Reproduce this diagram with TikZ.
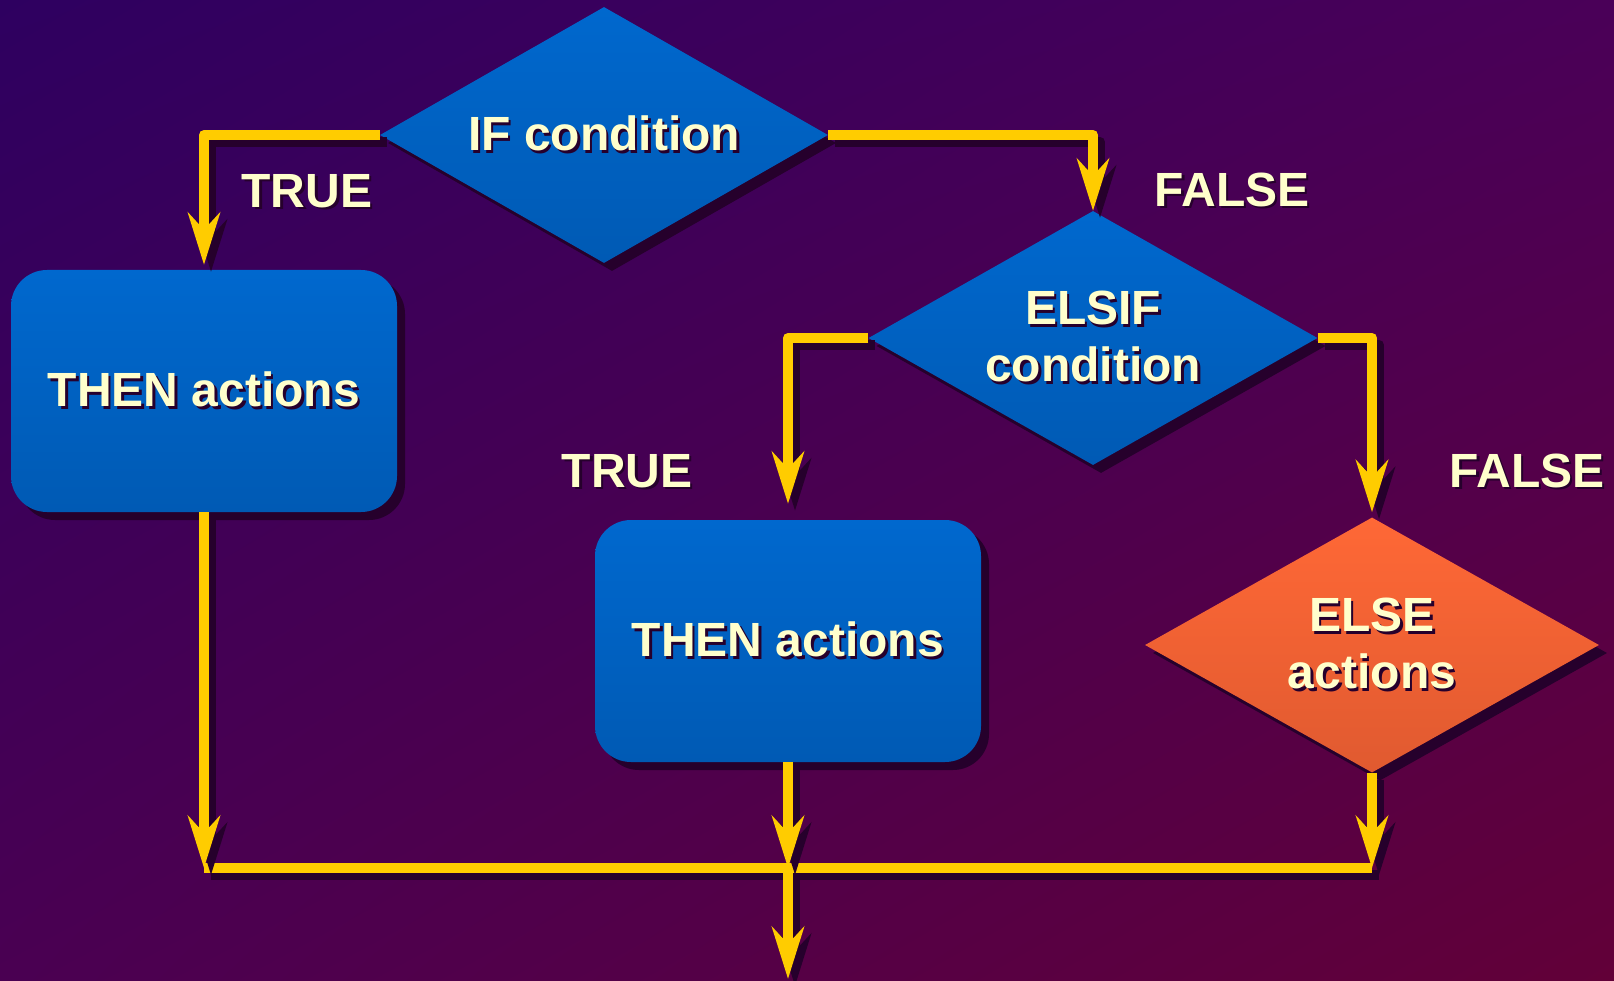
\documentclass[tikz,border=0pt]{standalone}
\usepackage{fontspec}
\setmainfont{Liberation Sans}
\usetikzlibrary{shapes.geometric,arrows.meta,shadows,shadings}
\definecolor{bgA}{HTML}{2E0060}
\definecolor{bgB}{HTML}{4A0058}
\definecolor{bgC}{HTML}{4A0052}
\definecolor{bgD}{HTML}{620038}
\definecolor{blueT}{HTML}{0068CE}
\definecolor{blueB}{HTML}{005AB4}
\definecolor{orangeT}{HTML}{FF6836}
\definecolor{orangeB}{HTML}{E05A30}
\definecolor{txt}{HTML}{FFFFCC}
\definecolor{tsh}{HTML}{26002C}
\definecolor{wire}{HTML}{FFCC00}
\newcommand\shtext[1]{\leavevmode\rlap{\kern2.5pt\raisebox{-2.5pt}{\textcolor{tsh}{#1}}}#1}
\newcommand\conn[2][]{\draw[connshadow,#1] #2; \draw[conn,#1] #2;}
\begin{document}
\begin{tikzpicture}[x=1pt,y=-1pt,
  >={Stealth[length=52pt,width=32pt,inset=17pt]},
  lbl/.style={text=txt, font=\fontsize{48}{57}\selectfont\bfseries, inner sep=0pt, align=center},
  sh/.style={drop shadow={shadow xshift=8pt, shadow yshift=-8pt, fill=tsh, opacity=1}},
  decision/.style={diamond, aspect=1.76, lbl, sh, top color=blueT, bottom color=blueB, draw=none},
  actionbox/.style={rectangle, rounded corners=36pt, lbl, sh, top color=blueT, bottom color=blueB, draw=none, minimum width=386pt, minimum height=242pt},
  elsebox/.style={diamond, aspect=1.78, lbl, sh, top color=orangeT, bottom color=orangeB, draw=none},
  conn/.style={->, draw=wire, line width=10pt, line join=round},
  connshadow/.style={->, draw=tsh, line width=10pt, line join=round, transform canvas={shift={(7pt,-7pt)}}}
]
\useasboundingbox (0,0) rectangle (1614,981);
\shade[upper left=bgA, upper right=bgB, lower left=bgC, lower right=bgD] (0,0) rectangle (1614,981);

\node[decision, minimum width=448pt, minimum height=256pt] (if) at (604,135) {\shtext{IF condition}};
\node[decision, minimum width=449pt, minimum height=254pt] (elsif) at (1093,338) {\shtext{ELSIF}\\\shtext{condition}};
\node[elsebox, minimum width=454pt, minimum height=255pt] (else) at (1372,645) {\shtext{ELSE}\\\shtext{actions}};
\node[actionbox] (then1) at (204,391) {\shtext{THEN actions}};
\node[actionbox] (then2) at (788,641) {\shtext{THEN actions}};

\node[lbl] (t1) at (307,192) {\shtext{TRUE}};
\node[lbl] (f1) at (1232,191) {\shtext{FALSE}};
\node[lbl] (t2) at (627,472) {\shtext{TRUE}};
\node[lbl] (f2) at (1527,472) {\shtext{FALSE}};

\coordinate (j1) at (204,868);
\coordinate (j2) at (788,868);
\coordinate (j3) at (1372,868);
\coordinate (out) at (788,979);

\conn[shorten >=5pt]{(if.west) -| (then1.north)}
\conn{(if.east) -| (elsif.north)}
\conn[shorten >=16pt]{(elsif.west) -| (then2.north)}
\conn[shorten >=5pt]{(elsif.east) -| (else.north)}
\conn[-]{(j1) -- (j3)}
\conn{(then1.south) -- (j1)}
\conn{(then2.south) -- (j2)}
\conn{(else.south) -- (j3)}
\conn{(j2) -- (out)}
\end{tikzpicture}
\end{document}
